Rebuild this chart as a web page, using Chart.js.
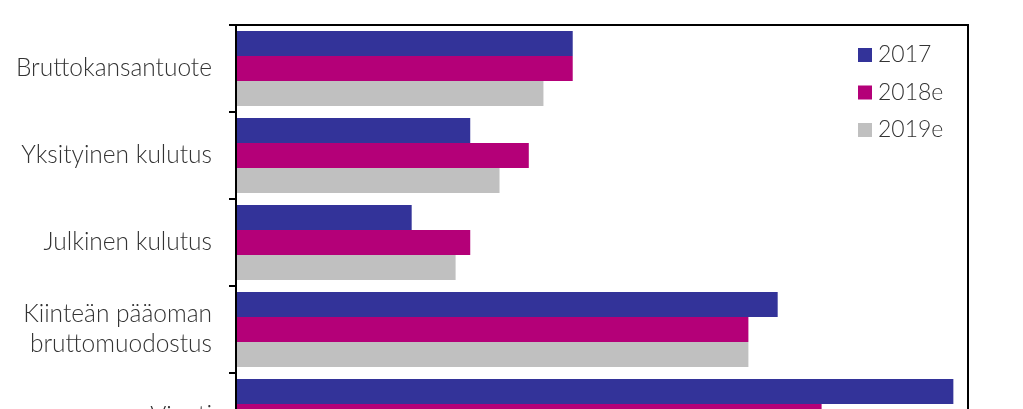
<!DOCTYPE html>
<html>
<head>
<meta charset="utf-8">
<script src="https://cdn.jsdelivr.net/npm/chart.js@4"></script>
<style>
  html, body { margin: 0; padding: 0; background: #fff; overflow: hidden; }
  #wrap { width: 1023px; height: 409px; overflow: hidden; }
</style>
</head>
<body>
<div id="wrap">
  <canvas id="chart" width="1023" height="480"></canvas>
</div>
<script>
// Kasvuennusteet, % (luettu kuvasta)
const categories = [
  "Bruttokansantuote",
  "Yksityinen kulutus",
  "Julkinen kulutus",
  ["Kiinteän pääoman", "bruttomuodostus"],
  "Vienti",
];
const seriesNames = ["2017", "2018e", "2019e"];
const values2017 = [2.3, 1.6, 1.2, 3.7, 4.9];
const values2018 = [2.3, 2.0, 1.6, 3.5, 4.0];
const values2019 = [2.1, 1.8, 1.5, 3.5, 3.6];
const colors = ["#333399", "#b40078", "#c0c0c0"];

const labelFont = { family: "Lato, 'Open Sans', sans-serif", size: 24.5, weight: "300", lineHeight: 1.22 };
const legendFontSize = 23;
const textColor = "#333";

// frame round the plot area, like the original
const framePlugin = {
  id: "frame",
  afterDatasetsDraw(chart) {
    const { ctx, chartArea: a } = chart;
    ctx.save();
    ctx.strokeStyle = "#000";
    ctx.lineWidth = 2;
    ctx.strokeRect(a.left, a.top, a.right - a.left, a.bottom - a.top);
    ctx.restore();
  },
};

// legend sits inside the plot area, top right
const insideLegend = {
  id: "insideLegend",
  afterDraw(chart) {
    const { ctx, chartArea: a } = chart;
    ctx.save();
    ctx.font = `${labelFont.weight} ${legendFontSize}px ${labelFont.family}`;
    ctx.textBaseline = "middle";
    ctx.textAlign = "left";
    chart.data.datasets.forEach((ds, i) => {
      const y = a.top + 30 + i * 37.5;
      const x = a.right - 110;
      ctx.fillStyle = ds.backgroundColor;
      ctx.fillRect(x, y - 7, 14, 14);
      ctx.fillStyle = textColor;
      ctx.fillText(ds.label, x + 20, y);
    });
    ctx.restore();
  },
};

const seriesValues = [values2017, values2018, values2019];

new Chart(document.getElementById("chart").getContext("2d"), {
  type: "bar",
  data: {
    labels: categories,
    datasets: seriesNames.map((name, i) => ({
      label: name,
      data: seriesValues[i],
      backgroundColor: colors[i],
      borderWidth: 0,
      categoryPercentage: 0.862,
      barPercentage: 1,
    })),
  },
  options: {
    indexAxis: "y",
    responsive: false,
    animation: false,
    layout: { padding: { top: 25, right: 55, bottom: 20, left: 0 } },
    plugins: {
      legend: { display: false },
      tooltip: { enabled: false },
    },
    scales: {
      x: {
        display: false,
        min: 0,
        max: 5,
      },
      y: {
        afterFit(scale) {
          scale.width = 236;
          scale.paddingTop = 0;
          scale.paddingBottom = 0;
        },
        border: { display: false },
        grid: {
          offset: true,
          drawOnChartArea: false,
          drawTicks: true,
          tickLength: 7,
          color: "#000",
          lineWidth: 2,
        },
        ticks: {
          color: textColor,
          font: labelFont,
          padding: 17,
        },
      },
    },
  },
  plugins: [framePlugin, insideLegend],
});
</script>
</body>
</html>
